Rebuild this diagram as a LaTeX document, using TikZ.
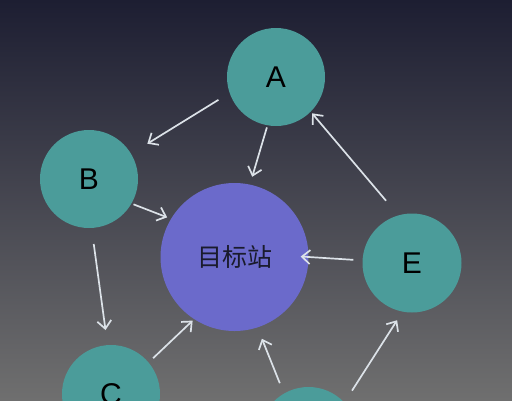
\documentclass[tikz,border=0pt]{standalone}
\usepackage{fontspec}
\setmainfont{Liberation Sans}
\newfontfamily\cjk{Noto Sans CJK SC}
\usetikzlibrary{arrows.meta}

\definecolor{bgtop}{HTML}{1D1E32}
\definecolor{bgmid}{HTML}{4A4A55}
\definecolor{bgbot}{HTML}{6F6F6F}
\definecolor{teal}{HTML}{4B9C9A}
\definecolor{violet}{HTML}{6B6ACB}
\definecolor{linkcol}{HTML}{DCE2E8}

\begin{document}
\begin{tikzpicture}[x=1pt,y=-1pt,
    station/.style={circle,fill=teal,inner sep=0pt,minimum size=98pt,
      font=\fontsize{30}{30}\selectfont,text=black},
    goal/.style={circle,fill=violet,inner sep=0pt,minimum size=148pt,
      font=\cjk\fontsize{25}{25}\selectfont,text=bgtop!90!black},
    link/.style={draw=linkcol,line width=1.7pt,
      -{Straight Barb[length=8pt,width=14pt]}}]
  \useasboundingbox (0,0) rectangle (512,400);
  \begin{scope}
    \clip (0,0) rectangle (512,400);
    \shade[top color=bgtop,middle color=bgmid,bottom color=bgbot]
      (0,0) rectangle (512,400);

    \node[goal] (T) at (234.5,257) {目标站};
    \node[station] (A) at (276,77) {A};
    \node[station] (B) at (89,179) {B};
    \node[station] (C) at (111,394) {C};
    \node[station] (D) at (308.5,436) {};
    \node[station,minimum size=99pt] (E) at (412,263) {E};

    % links between stations
    \draw[link,shorten <=13pt,shorten >=19pt] (A.199) -- (B.31);
    \draw[link,shorten <=2pt,shorten >=8pt] (A.260) -- (T.78);
    \draw[link,shorten <=19pt,shorten >=2pt] (E.106) -- (A.315);
    \draw[link,shorten <=2pt,shorten >=4pt] (B.330) -- (T.149);
    \draw[link,shorten <=9pt,shorten >=-8pt] (E.177) -- (T.0);
    \draw[link,shorten <=16pt,shorten >=15pt] (B.273) -- (C.94);
    \draw[link,shorten <=6pt,shorten >=2pt] (C.40) -- (T.237);
    \draw[link,shorten <=11pt,shorten >=12pt] (D.120) -- (T.288);
    \draw[link,shorten <=14pt,shorten >=10pt] (D.43) -- (E.259);
  \end{scope}
\end{tikzpicture}
\end{document}
